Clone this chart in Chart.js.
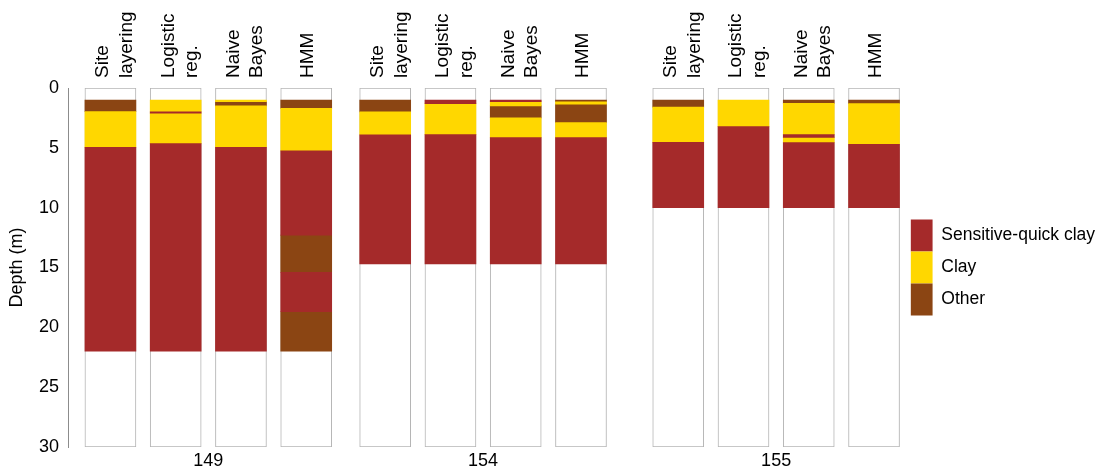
<!DOCTYPE html>
<html>
<head>
<meta charset="utf-8">
<script src="https://cdn.jsdelivr.net/npm/chart.js@4"></script>
<style>
  html, body { margin: 0; padding: 0; background: #fff; }
</style>
</head>
<body>
<canvas id="myChart" width="1096" height="473"></canvas>
<script>
// boreholes and methods (4 columns per borehole)
var sites = ['149', '154', '155'];
var methods = [['Site', 'layering'], ['Logistic', 'reg.'], ['Naive', 'Bayes'], ['HMM']];
var depthTicks = [0, 5, 10, 15, 20, 25, 30];
var maxDepth = 30;

// intervals: [column, top (m), bottom (m)], column = site*4 + method
var quickClay = [
  [0, 4.95, 22.0],
  [1, 2.0, 2.1], [1, 4.65, 22.0],
  [2, 4.95, 22.0],
  [3, 5.25, 12.3], [3, 15.4, 18.7],
  [4, 3.92, 14.7],
  [5, 1.0, 1.3], [5, 3.9, 14.7],
  [6, 1.0, 1.15], [6, 4.15, 14.7],
  [7, 4.15, 14.7],
  [8, 4.55, 10.0],
  [9, 3.23, 10.0],
  [10, 3.9, 4.12], [10, 4.57, 10.0],
  [11, 4.7, 10.0]
];
var clay = [
  [0, 1.97, 4.95],
  [1, 1.0, 2.0], [1, 2.1, 4.65],
  [2, 1.0, 1.15], [2, 1.5, 4.95],
  [3, 1.7, 5.25],
  [4, 2.0, 3.92],
  [5, 1.3, 3.9],
  [6, 1.15, 1.5], [6, 2.5, 4.15],
  [7, 1.15, 1.35], [7, 2.9, 4.15],
  [8, 1.6, 4.55],
  [9, 1.0, 3.23],
  [10, 1.28, 3.9], [10, 4.12, 4.57],
  [11, 1.3, 4.7]
];
var other = [
  [0, 1.0, 1.97],
  [2, 1.15, 1.5],
  [3, 1.0, 1.7], [3, 12.3, 15.4], [3, 18.7, 22.0],
  [4, 1.0, 2.0],
  [6, 1.5, 2.5],
  [7, 1.0, 1.15], [7, 1.35, 2.9],
  [8, 1.0, 1.6],
  [10, 1.0, 1.28],
  [11, 1.0, 1.3]
];

// layout: extra space between the borehole groups (in column widths)
var groupShift = [0, 0.21, 0.7];
var font = '"Liberation Sans", Arial, Helvetica, sans-serif';

var colX = function (c) {
  return c + groupShift[Math.floor(c / 4)];
};
var toPoints = function (list) {
  return list.map(function (d) { return { x: colX(d[0]), y: [d[1], d[2]] }; });
};

var frames = [];
for (var c = 0; c < sites.length * methods.length; c++) {
  frames.push({ x: colX(c), y: [0, maxDepth] });
}
var siteCenters = sites.map(function (s, i) { return colX(i * 4) + 1.5; });

var topLabels = {
  id: 'topLabels',
  afterDraw: function (chart) {
    var ctx = chart.ctx;
    var xs = chart.scales.x;
    ctx.save();
    ctx.font = '19px ' + font;
    ctx.fillStyle = '#000';
    ctx.textAlign = 'left';
    ctx.textBaseline = 'alphabetic';
    for (var i = 0; i < frames.length; i++) {
      var lines = methods[i % 4];
      var cx = xs.getPixelForValue(colX(i));
      var n = lines.length;
      for (var j = 0; j < n; j++) {
        var bx = cx + 6.8 - (n - 1) * 8.95 + j * 23.5;
        ctx.save();
        ctx.translate(bx, 78);
        ctx.rotate(-Math.PI / 2);
        ctx.fillText(lines[j], 0, 0);
        ctx.restore();
      }
    }
    ctx.restore();
  }
};

var ctx = document.getElementById('myChart').getContext('2d');
var myChart = new Chart(ctx, {
  type: 'bar',
  data: {
    datasets: [{
      label: 'frame',
      data: frames,
      backgroundColor: '#ffffff',
      borderColor: '#b4b4b4',
      borderWidth: 1,
      borderSkipped: false,
      order: 10
    }, {
      label: 'Sensitive-quick clay',
      data: toPoints(quickClay),
      backgroundColor: '#A52A2A',
      borderWidth: 0,
      order: 1
    }, {
      label: 'Clay',
      data: toPoints(clay),
      backgroundColor: '#FFD700',
      borderWidth: 0,
      order: 1
    }, {
      label: 'Other',
      data: toPoints(other),
      backgroundColor: '#8B4513',
      borderWidth: 0,
      order: 1
    }]
  },
  options: {
    responsive: false,
    animation: false,
    devicePixelRatio: 1,
    datasets: {
      bar: { grouped: false, barThickness: 51 }
    },
    layout: { padding: { top: 88, right: -9, bottom: 0, left: 0 } },
    scales: {
      x: {
        type: 'linear',
        offset: false,
        min: -0.65,
        max: 12.26,
        grid: { display: false, drawTicks: false },
        border: { display: false },
        afterFit: function (s) { s.height = 26; },
        afterBuildTicks: function (s) {
          s.ticks = siteCenters.map(function (v) { return { value: v }; });
        },
        ticks: {
          padding: 3,
          color: '#000',
          maxRotation: 0,
          font: { family: font, size: 18 },
          callback: function (v, i) { return sites[i]; }
        }
      },
      y: {
        type: 'linear',
        reverse: true,
        min: 0,
        max: maxDepth,
        grid: { display: false, drawTicks: false },
        border: { display: true, color: '#8c8c8c', width: 1 },
        afterFit: function (s) { s.width = 68; },
        afterBuildTicks: function (s) {
          s.ticks = depthTicks.map(function (v) { return { value: v }; });
        },
        ticks: {
          padding: 9,
          color: '#000',
          font: { family: font, size: 18 }
        },
        title: {
          display: true,
          text: 'Depth (m)',
          color: '#000',
          padding: { top: 6, bottom: 0 },
          font: { family: font, size: 18 }
        }
      }
    },
    plugins: {
      tooltip: { enabled: false },
      legend: {
        display: true,
        position: 'right',
        align: 'center',
        fullSize: false,
        labels: {
          boxWidth: 22,
          boxHeight: 32,
          padding: 0,
          color: '#000',
          font: { family: font, size: 17.5 },
          filter: function (item) { return item.datasetIndex > 0; }
        }
      }
    }
  },
  plugins: [topLabels]
});
</script>
</body>
</html>
